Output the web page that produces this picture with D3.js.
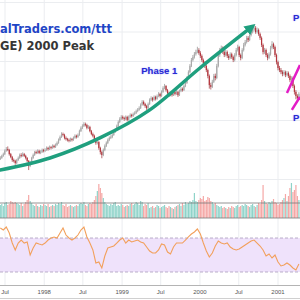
<!DOCTYPE html>
<html>
<head>
<meta charset="utf-8">
<script src="https://cdn.jsdelivr.net/npm/d3@7"></script>
<style>
  html, body { margin: 0; padding: 0; background: #fff; overflow: hidden; }
  svg { display: block; }
</style>
</head>
<body>
<svg id="chart" width="300" height="300"></svg>
<script>
const width = 300, height = 300;

// Weekly bars, first one in the week of 9 Jun 1997
const firstWeek = new Date(1997, 5, 9);

// Weekly closes (price)
const closes = [
  17.3, 18.0, 18.6, 19.7, 20.3, 20.0, 18.6, 17.6, 16.6, 16.3,
  15.6, 16.6, 17.3, 18.3, 18.0, 18.6, 18.0, 17.3, 16.3, 14.6,
  15.9, 17.3, 18.3, 19.3, 19.0, 19.7, 19.0, 19.3, 20.0, 19.7,
  20.0, 20.7, 20.3, 21.0, 20.7, 21.4, 21.0, 21.7, 22.4, 23.4,
  24.4, 25.4, 25.1, 24.1, 23.7, 23.4, 23.1, 23.7, 23.4, 24.1,
  24.8, 24.4, 25.1, 26.4, 27.5, 28.1, 28.8, 28.5, 27.5, 27.8,
  26.4, 25.4, 24.8, 23.4, 22.4, 22.7, 20.7, 19.3, 18.3, 20.0,
  21.4, 22.4, 23.4, 24.1, 24.4, 25.1, 26.1, 26.8, 28.1, 29.5,
  30.5, 31.2, 30.8, 30.5, 31.2, 30.2, 31.2, 31.9, 31.5, 32.2,
  32.5, 33.2, 33.6, 34.2, 35.3, 36.3, 35.6, 34.9, 34.2, 35.6,
  37.0, 37.6, 37.0, 38.0, 37.3, 38.3, 39.0, 38.3, 39.7, 41.0,
  41.7, 40.3, 39.3, 38.6, 39.3, 38.6, 39.7, 39.0, 39.7, 38.6,
  40.0, 40.7, 40.3, 41.7, 42.7, 44.4, 46.4, 48.5, 50.5, 51.5,
  52.5, 53.2, 53.9, 52.9, 51.9, 50.5, 49.5, 48.5, 47.1, 45.1,
  42.0, 41.4, 43.1, 45.1, 44.4, 48.5, 52.2, 53.9, 54.6, 53.2,
  52.2, 53.2, 51.9, 51.2, 52.5, 51.5, 50.5, 52.2, 53.9, 54.9,
  52.2, 51.2, 53.9, 55.6, 56.6, 58.0, 57.3, 59.0, 60.0, 60.7,
  61.4, 60.0, 60.7, 59.3, 58.0, 55.6, 53.2, 53.9, 52.2, 51.2,
  52.5, 54.6, 55.9, 54.9, 52.2, 49.8, 47.8, 47.1, 46.4, 45.8,
  46.4, 45.4, 46.1, 45.1, 43.7, 44.4, 41.7, 39.7, 38.3, 37.6,
  39.0
];
const firstOpen = 17.0;

const highs = [
  17.9, 18.4, 19.1, 20.2, 21.0, 21.2, 20.4, 19.0, 18.0, 17.1,
  16.7, 17.0, 17.8, 18.8, 18.9, 19.2, 19.0, 18.4, 17.6, 16.6,
  16.3, 17.7, 18.8, 19.7, 19.8, 20.2, 20.1, 19.9, 20.5, 20.4,
  20.6, 21.2, 21.1, 21.5, 21.4, 21.9, 21.8, 22.2, 22.9, 23.9,
  24.9, 26.0, 25.9, 25.5, 24.6, 24.1, 23.9, 24.2, 24.1, 24.6,
  25.3, 25.2, 25.6, 26.9, 28.0, 28.7, 29.4, 29.3, 28.9, 28.4,
  28.2, 26.8, 25.9, 25.2, 23.8, 23.4, 23.0, 21.1, 19.8, 20.5,
  21.9, 22.9, 23.9, 24.6, 25.0, 25.6, 26.6, 27.3, 28.6, 30.0,
  31.1, 31.8, 31.7, 31.3, 31.7, 31.6, 31.7, 32.4, 32.3, 32.7,
  33.1, 33.7, 34.2, 34.8, 35.8, 36.9, 36.8, 36.0, 35.3, 36.1,
  37.5, 38.2, 38.0, 38.5, 38.4, 38.8, 39.6, 39.4, 40.2, 41.6,
  42.4, 42.0, 40.7, 39.8, 39.8, 39.7, 40.2, 40.1, 40.3, 40.1,
  40.5, 41.3, 41.2, 42.2, 43.3, 45.0, 47.0, 49.1, 51.2, 52.2,
  53.2, 54.0, 55.0, 54.5, 53.5, 52.4, 51.0, 50.1, 49.0, 47.6,
  45.6, 42.8, 43.8, 45.8, 45.9, 49.2, 52.9, 54.6, 55.4, 55.1,
  53.8, 53.9, 53.7, 52.5, 53.1, 53.0, 52.0, 52.8, 54.6, 55.7,
  55.3, 52.7, 54.5, 56.3, 57.3, 58.7, 58.6, 59.7, 60.8, 61.6,
  62.6, 62.0, 61.5, 61.2, 59.8, 58.5, 56.1, 54.6, 54.4, 52.8,
  53.1, 55.3, 56.9, 56.4, 55.4, 52.7, 50.3, 48.5, 47.8, 47.0,
  47.1, 46.9, 46.8, 46.6, 45.6, 45.0, 44.9, 42.2, 40.3, 38.9,
  39.6
];

const lows = [
  16.6, 17.0, 17.7, 18.3, 19.4, 19.6, 18.1, 17.2, 16.0, 15.8,
  15.0, 15.2, 16.3, 17.0, 17.5, 17.7, 17.6, 16.8, 15.8, 13.2,
  14.2, 15.6, 17.0, 18.0, 18.6, 18.7, 18.6, 18.6, 19.0, 19.2,
  19.3, 19.7, 19.8, 20.0, 20.2, 20.4, 20.6, 20.7, 21.4, 22.1,
  23.1, 24.1, 24.6, 23.6, 23.2, 22.9, 22.6, 22.8, 22.9, 23.1,
  23.8, 23.9, 24.1, 24.8, 26.1, 27.1, 27.8, 28.0, 27.0, 27.1,
  26.0, 25.0, 24.3, 22.9, 21.8, 21.9, 20.1, 18.5, 17.2, 17.9,
  19.6, 21.0, 22.0, 23.0, 23.7, 24.0, 24.8, 25.8, 26.5, 27.8,
  29.1, 30.1, 30.3, 29.9, 30.1, 29.7, 29.9, 30.9, 31.0, 31.2,
  31.8, 32.2, 32.8, 33.3, 33.9, 35.0, 35.1, 34.3, 33.6, 33.9,
  35.3, 36.6, 36.4, 36.7, 36.8, 37.0, 37.9, 37.8, 38.0, 39.4,
  40.6, 39.8, 38.8, 38.0, 38.2, 38.1, 38.3, 38.5, 38.7, 38.0,
  38.3, 39.6, 39.8, 40.0, 41.3, 42.4, 44.0, 46.0, 48.1, 50.0,
  51.0, 52.0, 52.8, 52.3, 51.2, 49.9, 48.9, 47.8, 46.4, 44.3,
  40.8, 40.5, 41.0, 42.7, 43.6, 44.0, 48.0, 51.6, 53.3, 52.6,
  51.5, 51.7, 51.2, 50.5, 50.8, 50.9, 49.8, 50.0, 51.7, 53.4,
  51.5, 50.4, 50.8, 53.4, 55.1, 56.1, 56.6, 56.9, 58.5, 59.5,
  60.2, 59.4, 59.5, 58.7, 57.3, 54.9, 52.4, 52.6, 51.5, 50.4,
  50.8, 52.0, 54.1, 54.2, 51.5, 49.0, 47.0, 46.4, 45.7, 45.0,
  45.2, 44.7, 44.9, 44.4, 43.0, 43.2, 41.0, 38.8, 37.2, 36.6,
  37.2
];

// Weekly volume
const volumes = [
  65, 70, 60, 75, 80, 65, 70, 85, 80, 75,
  80, 75, 70, 65, 75, 60, 70, 80, 90, 115,
  85, 75, 65, 60, 70, 60, 55, 65, 60, 70,
  65, 60, 70, 55, 60, 65, 60, 70, 65, 75,
  70, 80, 65, 60, 70, 55, 60, 65, 60, 55,
  60, 65, 60, 70, 75, 70, 80, 65, 60, 70,
  75, 70, 80, 90, 110, 135, 170, 150, 125, 100,
  80, 70, 65, 60, 70, 65, 75, 80, 60, 65,
  60, 70, 65, 55, 60, 65, 60, 70, 75, 65,
  70, 80, 75, 65, 85, 80, 60, 70, 65, 75,
  50, 55, 60, 50, 55, 65, 60, 50, 55, 60,
  65, 55, 50, 60, 55, 50, 45, 55, 60, 65,
  70, 60, 75, 65, 80, 70, 75, 85, 80, 90,
  125, 85, 80, 90, 100, 95, 110, 85, 90, 105,
  100, 85, 80, 70, 75, 65, 60, 55, 60, 50,
  55, 50, 45, 55, 50, 60, 55, 50, 60, 65,
  55, 60, 65, 60, 70, 65, 60, 55, 65, 70,
  60, 55, 65, 75, 70, 90, 165, 85, 75, 70,
  80, 75, 85, 95, 80, 75, 65, 70, 80, 90,
  100, 120, 85, 110, 150, 175, 130, 140, 165, 110,
  90
];
const volumeLevel = 75;

// RSI, one reading every second week
const rsiValues = [
  81.8, 79.4, 82.9, 75.9, 64.1, 55.9, 64.1, 67.6, 64.1, 65.3,
  50.0, 58.2, 64.1, 62.9, 61.8, 64.1, 67.6, 70.0, 71.2, 70.0,
  75.9, 81.8, 73.5, 70.0, 67.6, 70.0, 73.5, 79.4, 82.9, 71.2,
  64.1, 55.9, 40.6, 41.8, 34.7, 48.8, 58.2, 59.4, 60.6, 64.1,
  67.6, 70.0, 64.1, 67.6, 65.3, 66.5, 67.6, 65.3, 64.1, 59.4,
  54.7, 52.4, 52.4, 55.9, 62.9, 61.8, 53.5, 51.2, 59.4, 64.1,
  64.1, 64.1, 67.6, 71.2, 74.7, 77.1, 80.6, 74.7, 64.1, 54.7,
  47.6, 52.4, 60.6, 66.5, 64.1, 62.9, 64.1, 59.4, 57.1, 55.9,
  57.1, 59.4, 61.8, 64.1, 66.5, 67.6, 64.1, 60.6, 55.9, 48.8,
  51.2, 46.5, 50.0, 41.8, 37.1, 38.2, 40.6, 38.2, 34.7, 32.4,
  39.4
];
const rsiBand = [30, 70];

// Time axis
const tickDates = [
  new Date(1997, 6, 1), new Date(1998, 0, 1), new Date(1998, 6, 1), new Date(1999, 0, 1),
  new Date(1999, 6, 1), new Date(2000, 0, 1), new Date(2000, 6, 1), new Date(2001, 0, 1)
];
const tickLabels = ["Jul", "1998", "Jul", "1999", "Jul", "2000", "Jul", "2001"];
const priceGrid = [10, 20, 30, 40, 50, 60, 70];

// Annotations, in date / price terms
const trendArrow = [
  [new Date(1997, 5, 8), 13.2], [new Date(1998, 0, 28), 17.3], [new Date(1998, 8, 19), 24.1],
  [new Date(1999, 4, 11), 33.6], [new Date(2000, 0, 1), 47.8], [new Date(2000, 8, 1), 61.8]
];
const phaseLines = [
  [[new Date(2001, 1, 12), 39.3], [new Date(2001, 3, 14), 48.8]],
  [[new Date(2001, 2, 7), 33.6], [new Date(2001, 3, 14), 38.0]]
];
// the picture is cropped, only the start of some labels shows
const phaseLabels = [
  { text: "Phase 1", date: new Date(1999, 3, 1), price: 45.6 },
  { text: "P", date: new Date(2001, 2, 12), price: 63.6 },
  { text: "P", date: new Date(2001, 2, 12), price: 29.9 }
];
const titleLines = ["alTraders.com/ttt", "GE) 2000 Peak"];

const svg = d3.select("#chart");

// Scales
const x = d3.scaleTime()
  .domain([new Date(1997, 6, 1), new Date(2001, 0, 1)])
  .range([5, 278]);
const y = d3.scaleLinear().domain([10, 60]).range([179.5, 32]);
const yVol = d3.scaleLinear().domain([0, 100]).range([218, 198]);
const yRsi = d3.scaleLinear().domain([30, 70]).range([272, 238]);

const weeks = closes.map((c, i) => d3.timeWeek.offset(firstWeek, i));
const bars = closes.map((c, i) => ({
  date: weeks[i],
  open: i === 0 ? firstOpen : closes[i - 1],
  close: c,
  high: highs[i],
  low: lows[i],
  volume: volumes[i]
}));

// Grid
svg.append("g").selectAll("line")
  .data(tickDates)
  .join("line")
  .attr("x1", d => x(d)).attr("x2", d => x(d))
  .attr("y1", 0).attr("y2", 285)
  .attr("stroke", "#ebedf0").attr("stroke-width", 1);

svg.append("g").selectAll("line")
  .data(priceGrid)
  .join("line")
  .attr("x1", 0).attr("x2", width)
  .attr("y1", d => y(d)).attr("y2", d => y(d))
  .attr("stroke", "#ebedf0").attr("stroke-width", 1);

// Volume
svg.append("g").selectAll("rect")
  .data(bars)
  .join("rect")
  .attr("x", d => x(d.date) - 0.6)
  .attr("width", 1.2)
  .attr("y", d => yVol(d.volume))
  .attr("height", d => yVol(0) - yVol(d.volume))
  .attr("fill", d => d.close >= d.open ? "#8fd3c9" : "#f5a8a6");

svg.append("line")
  .attr("x1", 0).attr("x2", width)
  .attr("y1", yVol(volumeLevel)).attr("y2", yVol(volumeLevel))
  .attr("stroke", "#7a7a7a").attr("stroke-width", 0.8);
svg.append("line")
  .attr("x1", 0).attr("x2", width)
  .attr("y1", yVol(0)).attr("y2", yVol(0))
  .attr("stroke", "#7a7a7a").attr("stroke-width", 0.8);

// Candles
const candle = svg.append("g").selectAll("g")
  .data(bars)
  .join("g");
candle.append("line")
  .attr("x1", d => x(d.date)).attr("x2", d => x(d.date))
  .attr("y1", d => y(d.high)).attr("y2", d => y(d.low))
  .attr("stroke", d => d.close >= d.open ? "#8a8a8a" : "#9c2f35")
  .attr("stroke-width", 0.7);
candle.append("rect")
  .attr("x", d => x(d.date) - 0.6)
  .attr("width", 1.2)
  .attr("y", d => y(Math.max(d.open, d.close)))
  .attr("height", d => Math.max(0.8, Math.abs(y(d.open) - y(d.close))))
  .attr("fill", d => d.close >= d.open ? "#a9a9a9" : "#b5343c");

// Trend arrow
svg.append("defs").append("marker")
  .attr("id", "arrow")
  .attr("viewBox", "0 0 10 10")
  .attr("refX", 6).attr("refY", 5)
  .attr("markerWidth", 11).attr("markerHeight", 11)
  .attr("markerUnits", "userSpaceOnUse")
  .attr("orient", "auto")
  .append("path")
  .attr("d", "M 0 0 L 10 5 L 0 10 Z")
  .attr("fill", "#1f9f7e");

svg.append("path")
  .datum(trendArrow)
  .attr("d", d3.line().x(d => x(d[0])).y(d => y(d[1])).curve(d3.curveMonotoneX))
  .attr("fill", "none")
  .attr("stroke", "#1f9f7e")
  .attr("stroke-width", 3.5)
  .attr("stroke-linecap", "round")
  .attr("marker-end", "url(#arrow)");

svg.append("g").selectAll("line")
  .data(phaseLines)
  .join("line")
  .attr("x1", d => x(d[0][0])).attr("y1", d => y(d[0][1]))
  .attr("x2", d => x(d[1][0])).attr("y2", d => y(d[1][1]))
  .attr("stroke", "#e31cc6").attr("stroke-width", 2.5);

// Labels
svg.append("g").selectAll("text")
  .data(phaseLabels)
  .join("text")
  .attr("x", d => x(d.date)).attr("y", d => y(d.price))
  .attr("font-family", "'Liberation Sans', Arial, sans-serif")
  .attr("font-weight", "bold")
  .attr("font-size", 9.5)
  .attr("fill", "#2a2ad2")
  .style("text-shadow", "0 0 1.5px #9aa0ff")
  .text(d => d.text);

svg.append("g").selectAll("text")
  .data(titleLines)
  .join("text")
  .attr("x", 0)
  .attr("y", (d, i) => i === 0 ? 33 : 50)
  .attr("font-family", "'DejaVu Sans', Verdana, sans-serif")
  .attr("font-weight", "bold")
  .attr("font-size", 11.5)
  .attr("fill", (d, i) => i === 0 ? "#1f45c6" : "#363636")
  .text(d => d);

// RSI pane
svg.append("rect")
  .attr("x", 0).attr("width", width)
  .attr("y", yRsi(rsiBand[1]))
  .attr("height", yRsi(rsiBand[0]) - yRsi(rsiBand[1]))
  .attr("fill", "#efe2fb");
svg.append("g").selectAll("line")
  .data(rsiBand)
  .join("line")
  .attr("x1", 0).attr("x2", width)
  .attr("y1", d => yRsi(d)).attr("y2", d => yRsi(d))
  .attr("stroke", "#a99cbc").attr("stroke-width", 0.8)
  .attr("stroke-dasharray", "3,2");

svg.append("path")
  .datum(rsiValues)
  .attr("d", d3.line()
    .x((d, i) => x(weeks[i * 2]))
    .y(d => yRsi(d)))
  .attr("fill", "none")
  .attr("stroke", "#f2a05c")
  .attr("stroke-width", 1.1);

// Time axis
svg.append("line")
  .attr("x1", 0).attr("x2", width)
  .attr("y1", 285.5).attr("y2", 285.5)
  .attr("stroke", "#b4b4b4");
svg.append("line")
  .attr("x1", 0).attr("x2", width)
  .attr("y1", 298.5).attr("y2", 298.5)
  .attr("stroke", "#d0d0d0");
svg.append("g").selectAll("text")
  .data(tickDates)
  .join("text")
  .attr("x", d => x(d)).attr("y", 294)
  .attr("text-anchor", "middle")
  .attr("font-family", "'Liberation Sans', Arial, sans-serif")
  .attr("font-size", 6)
  .attr("fill", "#555")
  .text((d, i) => tickLabels[i]);
</script>
</body>
</html>
